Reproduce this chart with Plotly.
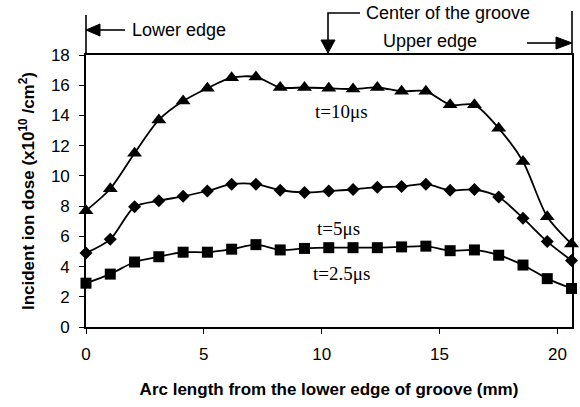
import plotly.graph_objects as go

# ---- data ----
arc_mm = [0.0, 1.03, 2.06, 3.09, 4.12, 5.15, 6.18, 7.21, 8.24, 9.27, 10.3,
          11.33, 12.36, 13.39, 14.42, 15.45, 16.48, 17.51, 18.54, 19.57, 20.6]
dose_10us = [7.7, 9.15, 11.5, 13.7, 14.95, 15.8, 16.5, 16.55, 15.85, 15.85, 15.8,
             15.75, 15.85, 15.6, 15.6, 14.7, 14.7, 13.15, 10.95, 7.3, 5.5]
dose_5us = [4.9, 5.8, 7.95, 8.35, 8.65, 9.0, 9.45, 9.45, 9.05, 8.9, 9.0,
            9.1, 9.25, 9.3, 9.45, 9.05, 9.1, 8.6, 7.2, 5.65, 4.4]
dose_2_5us = [2.9, 3.5, 4.3, 4.65, 4.95, 4.95, 5.15, 5.45, 5.1, 5.2, 5.25,
              5.25, 5.25, 5.3, 5.35, 5.05, 5.1, 4.75, 4.1, 3.2, 2.55]

series_names = ["t=10μs", "t=5μs", "t=2.5μs"]
series_values = [dose_10us, dose_5us, dose_2_5us]
series_symbols = ["triangle-up", "diamond", "square"]
series_sizes = [13, 10, 11]
label_pos = [(10.85, 14.25), (10.7, 6.5), (10.85, 3.55)]

x_ticks = [0, 5, 10, 15, 20]
y_ticks = [0, 2, 4, 6, 8, 10, 12, 14, 16, 18]

# ---- layout constants ----
W, H = 580, 407
ML, MR, MT, MB = 86, 8, 55, 80
PW, PH = W - ML - MR, H - MT - MB


def px(x):
    return (x - ML) / PW


def py(y):
    return (H - MB - y) / PH


fig = go.Figure()
for name, vals, sym, sz in zip(series_names, series_values, series_symbols, series_sizes):
    fig.add_trace(go.Scatter(
        x=arc_mm, y=vals, mode="lines+markers", name=name,
        line=dict(color="black", width=1.8, shape="spline", smoothing=0.8),
        marker=dict(symbol=sym, size=sz, color="black"),
        cliponaxis=False, showlegend=False,
    ))

annotations = []
for name, (lx, ly) in zip(series_names, label_pos):
    annotations.append(dict(x=lx, y=ly, xref="x", yref="y", text=name, showarrow=False,
                            font=dict(family="Liberation Serif, Times New Roman, serif", size=19, color="black")))

afont = dict(family="Liberation Sans, Arial, sans-serif", size=18, color="black")
annotations += [
    dict(x=px(130), y=py(30), xref="paper", yref="paper", text="Lower edge", showarrow=False,
         xanchor="left", yanchor="middle", font=afont),
    dict(x=px(364), y=py(13), xref="paper", yref="paper", text="Center of the groove", showarrow=False,
         xanchor="left", yanchor="middle", font=afont),
    dict(x=px(381), y=py(41), xref="paper", yref="paper", text="Upper edge", showarrow=False,
         xanchor="left", yanchor="middle", font=afont),
]

lw = 1.6
line_style = dict(color="black", width=lw)
shapes = [
    # vertical edge markers above the frame
    dict(type="line", xref="paper", yref="paper", x0=0, x1=0, y0=1, y1=py(15), line=line_style),
    dict(type="line", xref="paper", yref="paper", x0=1, x1=1, y0=1, y1=py(11), line=line_style),
    # lower edge arrow
    dict(type="line", xref="paper", yref="paper", x0=px(98), x1=px(125), y0=py(30), y1=py(30), line=line_style),
    dict(type="path", xref="paper", yref="paper",
         path=f"M {px(ML)} {py(30)} L {px(100)} {py(24)} L {px(100)} {py(36)} Z",
         fillcolor="black", line=dict(color="black", width=1)),
    # center arrow
    dict(type="path", xref="paper", yref="paper",
         path=f"M {px(360)} {py(13)} L {px(328)} {py(13)} L {px(328)} {py(42)}",
         line=line_style),
    dict(type="path", xref="paper", yref="paper",
         path=f"M {px(328)} {py(53)} L {px(321)} {py(40)} L {px(335)} {py(40)} Z",
         fillcolor="black", line=dict(color="black", width=1)),
    # upper edge arrow
    dict(type="line", xref="paper", yref="paper", x0=px(527), x1=px(558), y0=py(43), y1=py(43), line=line_style),
    dict(type="path", xref="paper", yref="paper",
         path=f"M {px(W - MR)} {py(43)} L {px(556)} {py(37)} L {px(556)} {py(49)} Z",
         fillcolor="black", line=dict(color="black", width=1)),
]

tick_font = dict(family="Liberation Sans, Arial, sans-serif", size=17, color="black")
title_font = dict(family="Liberation Sans, Arial, sans-serif", size=17, color="black")

fig.update_layout(
    width=W, height=H,
    margin=dict(l=ML, r=MR, t=MT, b=MB, autoexpand=False),
    paper_bgcolor="white", plot_bgcolor="white",
    annotations=annotations, shapes=shapes,
    xaxis=dict(range=[0, 20.62], tickvals=x_ticks, ticks="outside", ticklen=5, tickwidth=1.3,
               tickcolor="black", showline=True, linecolor="black", linewidth=lw, mirror=True,
               showgrid=False, zeroline=False, tickfont=tick_font, ticklabelstandoff=6,
               title=dict(text="<b>Arc length from the lower edge of groove (mm)</b>",
                          font=title_font, standoff=20)),
    yaxis=dict(range=[0, 18], tickvals=y_ticks, ticks="outside", ticklen=5, tickwidth=1.3,
               tickcolor="black", showline=True, linecolor="black", linewidth=lw, mirror=True,
               showgrid=False, zeroline=False, tickfont=tick_font, ticklabelstandoff=6,
               title=dict(text="<b>Incident ion dose (x10<sup>10</sup> /cm<sup>2</sup>)</b>",
                          font=title_font, standoff=12)),
)

fig.write_html("out.html")
